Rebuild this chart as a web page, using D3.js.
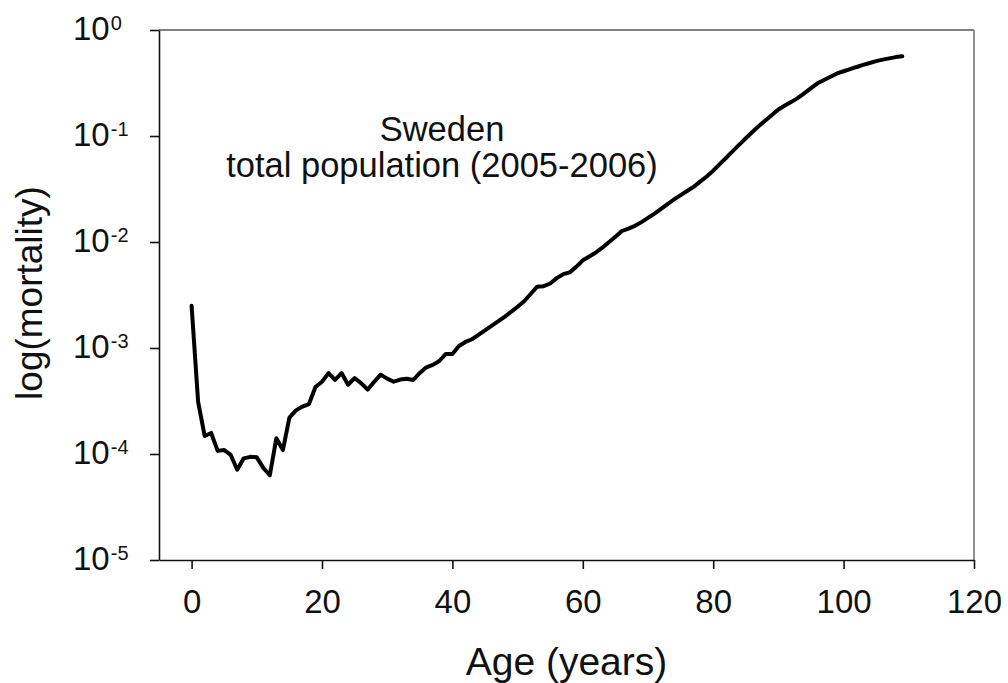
<!DOCTYPE html>
<html>
<head>
<meta charset="utf-8">
<script src="https://cdn.jsdelivr.net/npm/d3@7"></script>
<style>
  html, body { margin: 0; padding: 0; background: #fff; }
  svg { display: block; font-family: "Liberation Sans", Arial, sans-serif; }
</style>
</head>
<body>
<svg id="chart" width="1008" height="683"></svg>
<script>
// Age-specific mortality, Sweden, total population 2005-2006
const ages = [
  0, 1, 2, 3, 4, 5, 6, 7, 8, 9,
  10, 11, 12, 13, 14, 15, 16, 17, 18, 19,
  20, 21, 22, 23, 24, 25, 26, 27, 28, 29,
  30, 31, 32, 33, 34, 35, 36, 37, 38, 39,
  40, 41, 42, 43, 44, 45, 46, 47, 48, 49,
  50, 51, 52, 53, 54, 55, 56, 57, 58, 59,
  60, 61, 62, 63, 64, 65, 66, 67, 68, 69,
  70, 71, 72, 73, 74, 75, 76, 77, 78, 79,
  80, 81, 82, 83, 84, 85, 86, 87, 88, 89,
  90, 91, 92, 93, 94, 95, 96, 97, 98, 99,
  100, 101, 102, 103, 104, 105, 106, 107, 108, 109
];

const mortality = [
  2.5e-3, 3.1e-4, 1.48e-4, 1.58e-4, 1.07e-4, 1.09e-4, 9.8e-5, 7.1e-5, 9.1e-5, 9.4e-5,
  9.3e-5, 7.4e-5, 6.3e-5, 1.41e-4, 1.09e-4, 2.2e-4, 2.58e-4, 2.8e-4, 2.96e-4, 4.28e-4,
  4.8e-4, 5.8e-4, 5.0e-4, 5.8e-4, 4.5e-4, 5.2e-4, 4.66e-4, 4.05e-4, 4.8e-4, 5.6e-4,
  5.14e-4, 4.81e-4, 5.04e-4, 5.12e-4, 4.99e-4, 5.82e-4, 6.57e-4, 6.93e-4, 7.54e-4, 8.8e-4,
  8.78e-4, 1.045e-3, 1.14e-3, 1.21e-3, 1.33e-3, 1.47e-3, 1.62e-3, 1.78e-3, 1.97e-3, 2.19e-3,
  2.45e-3, 2.76e-3, 3.23e-3, 3.79e-3, 3.83e-3, 4.06e-3, 4.56e-3, 4.97e-3, 5.17e-3, 5.83e-3,
  6.72e-3, 7.31e-3, 7.96e-3, 8.85e-3, 9.93e-3, 1.12e-2, 1.27e-2, 1.34e-2, 1.42e-2, 1.54e-2,
  1.69e-2, 1.85e-2, 2.05e-2, 2.28e-2, 2.52e-2, 2.77e-2, 3.03e-2, 3.31e-2, 3.71e-2, 4.15e-2,
  4.70e-2, 5.42e-2, 6.24e-2, 7.19e-2, 8.28e-2, 9.53e-2, 0.109, 0.124, 0.140, 0.158,
  0.178, 0.194, 0.210, 0.229, 0.254, 0.283, 0.314, 0.338, 0.362, 0.389,
  0.408, 0.427, 0.448, 0.468, 0.488, 0.509, 0.525, 0.540, 0.555, 0.566
];

const xTicks = [0, 20, 40, 60, 80, 100, 120];
const yTicks = [1e-5, 1e-4, 1e-3, 1e-2, 1e-1, 1];
const yTickExponents = ["-5", "-4", "-3", "-2", "-1", "0"];

const titleLines = ["Sweden", "total population (2005-2006)"];
const xTitle = "Age (years)";
const yTitle = "log(mortality)";

const margin = { left: 159, right: 34, top: 30, bottom: 123 };
const W = 1008, H = 683;
const innerW = W - margin.left - margin.right;
const innerH = H - margin.top - margin.bottom;

const svg = d3.select("#chart");
svg.append("rect").attr("width", W).attr("height", H).attr("fill", "#fff");

const x = d3.scaleLinear().domain([-5, 120]).range([margin.left, margin.left + innerW]);
const y = d3.scaleLog().domain([1e-5, 1]).range([margin.top + innerH, margin.top]);

// Plot frame: grey top and right edges
svg.append("line")
  .attr("x1", x(-5)).attr("x2", x(120))
  .attr("y1", y(1)).attr("y2", y(1))
  .attr("stroke", "#555").attr("stroke-width", 1.6);
svg.append("line")
  .attr("x1", x(120)).attr("x2", x(120))
  .attr("y1", y(1)).attr("y2", y(1e-5))
  .attr("stroke", "#777").attr("stroke-width", 1.6);

// X axis
const xAxis = svg.append("g")
  .attr("transform", `translate(0,${y(1e-5)})`)
  .call(d3.axisBottom(x).tickValues(xTicks).tickSize(9).tickSizeOuter(0).tickPadding(20).tickFormat(d3.format("d")));
xAxis.select(".domain").attr("stroke", "#111").attr("stroke-width", 1.6);
xAxis.selectAll(".tick line").attr("stroke", "#111").attr("stroke-width", 1.6);
xAxis.selectAll(".tick text")
  .attr("fill", "#111")
  .attr("font-size", 33)
  .attr("font-family", "'Liberation Sans', Arial, sans-serif")
  .attr("dy", null)
  .attr("y", 53);

// Y axis, decade ticks labelled as powers of ten
const yAxis = svg.append("g")
  .attr("transform", `translate(${x(-5)},0)`)
  .call(d3.axisLeft(y).tickValues(yTicks).tickSize(9).tickSizeOuter(0).tickFormat(() => ""));
yAxis.select(".domain").attr("stroke", "#111").attr("stroke-width", 1.6);
yAxis.selectAll(".tick line").attr("stroke", "#111").attr("stroke-width", 1.6);
yAxis.selectAll(".tick").each(function(d, i) {
  const t = d3.select(this).append("text")
    .attr("x", -86)
    .attr("y", 9)
    .attr("text-anchor", "start")
    .attr("fill", "#111")
    .attr("font-family", "'Liberation Sans', Arial, sans-serif");
  t.append("tspan").attr("font-size", 33).text("10");
  t.append("tspan").attr("font-size", 20).attr("dx", 1).attr("dy", -10).text(yTickExponents[i]);
});

// Mortality curve
const data = ages.map((a, i) => ({ age: a, m: mortality[i] }));
svg.append("path")
  .datum(data)
  .attr("fill", "none")
  .attr("stroke", "#000")
  .attr("stroke-width", 4)
  .attr("stroke-linejoin", "round")
  .attr("stroke-linecap", "round")
  .attr("d", d3.line().x(d => x(d.age)).y(d => y(d.m)));

// Annotation, two centred lines
svg.selectAll("text.note")
  .data(titleLines)
  .join("text")
  .attr("class", "note")
  .attr("x", 442)
  .attr("y", (d, i) => 141 + i * 36)
  .attr("text-anchor", "middle")
  .attr("fill", "#111")
  .attr("font-size", 34.5)
  .text(d => d);

// Axis titles
svg.append("text")
  .attr("x", (x(-5) + x(120)) / 2)
  .attr("y", 675)
  .attr("text-anchor", "middle")
  .attr("fill", "#111")
  .attr("font-size", 39)
  .text(xTitle);

svg.append("text")
  .attr("transform", "translate(42,293) rotate(-90)")
  .attr("text-anchor", "middle")
  .attr("fill", "#111")
  .attr("font-size", 37)
  .text(yTitle);
</script>
</body>
</html>
